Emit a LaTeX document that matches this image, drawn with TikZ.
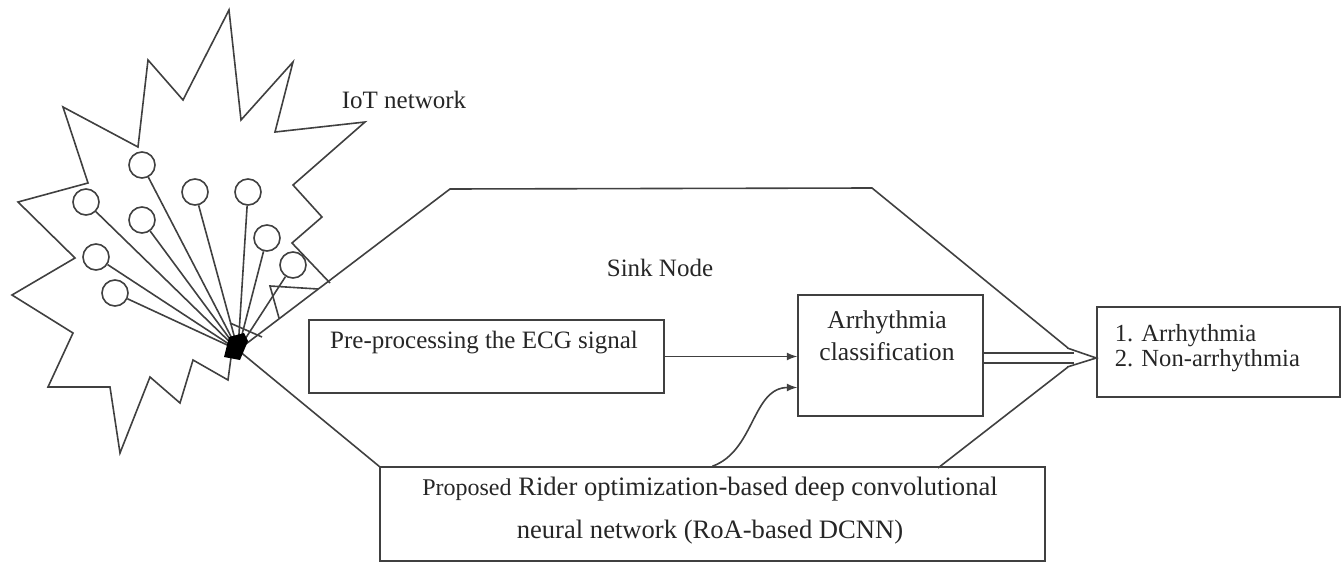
\documentclass[tikz,border=0pt]{standalone}
\usepackage{fontspec}
\setmainfont{Liberation Serif}
\usetikzlibrary{arrows}

\begin{document}
\begin{tikzpicture}[x=0.5pt,y=-0.5pt,>=latex,color=black!75,line width=0.8pt,
    font=\fontsize{12.5}{15}\selectfont]
    \tikzstyle{sensor}=[circle,draw,minimum size=13pt,inner sep=0pt]
    \tikzstyle{block}=[rectangle,draw,inner sep=0pt]
    \tikzstyle{annot}=[align=center,text=black!85,inner sep=0pt]

    \useasboundingbox (0,0) rectangle (1341,562);

    % Draw the IoT network outline
    \draw (330,283) -- (292,243) -- (322,217) -- (293,185) -- (365,122) -- (275,132)
        -- (293,62) -- (241,120) -- (229,10) -- (183,100) -- (148,60) -- (138,147)
        -- (63,107) -- (88,183) -- (18,202) -- (75,258) -- (12,295) -- (73,333)
        -- (48,387) -- (110,387) -- (120,453) -- (150,377) -- (180,403) -- (193,360)
        -- (228,380) -- (232,350);

    % Draw the sink node outline
    \coordinate (hub) at (238,350);
    \draw (380,467) -- (hub) -- (450,189) -- (872,188) -- (1068,348);
    \draw (1068,367) -- (938,468);

    % Draw the sensor nodes
    \foreach \name / \x / \y in {1/142/165, 2/86/202, 3/195/192, 4/248/192, 5/142/220,
                                6/267/238, 7/96/257, 8/293/265, 9/115/293}
        \node[sensor] (S-\name) at (\x,\y) {};

    % Connect every sensor with the sink
    \foreach \source in {1,...,9}
        \path (S-\source) edge (hub);

    % Base station
    \draw (279,318) -- (270,286) -- (318,289);
    \draw (230,323) -- (262,337);
    \fill[black] (224,357) -- (229,337) -- (244,333) -- (248,341) -- (240,360) -- cycle;

    % Draw the processing blocks
    \node[block, minimum width=177.5pt, minimum height=36.5pt] (pre) at (486.5,356.5) {};
    \node[block, minimum width=92.5pt, minimum height=60.5pt] (cls) at (890.5,355.5) {};
    \node[block, minimum width=332.5pt, minimum height=47pt] (model) at (712.5,514) {};
    \node[block, minimum width=121.5pt, minimum height=45pt] (res) at (1218.5,352) {};

    % Annotate the blocks
    \node[annot] (iot) at (404,100) {IoT network};
    \node[annot] (sink) at (660,268) {Sink Node};
    \node[annot] (pre-text) at (484,343) {Pre-processing the ECG signal};
    \node[annot, font=\fontsize{12.8}{16}\selectfont] (cls-text) at (887,336)
        {Arrhythmia\\classification};
    \node[annot, font=\fontsize{13.3}{21.5}\selectfont] (model-text) at (710,511)
        {{\fontsize{12}{21.5}\selectfont Proposed} Rider optimization-based deep convolutional\\
         neural network (RoA-based DCNN)};
    \node[annot, align=left, anchor=west, font=\fontsize{12.3}{12.5}\selectfont] (res-text)
        at (1114,348) {1. Arrhythmia\\2. Non-arrhythmia};

    % Connect the blocks
    \draw[->] (pre.east) -- (pre.east -| cls.west);
    \draw[->] (model.north) to[out=20,in=180] ([yshift=-16pt]cls.west);

    % Output arrow
    \coordinate (tip) at ([yshift=-3pt]res.west);
    \draw ([yshift=1.25pt]cls.east) -- ++(90,0);
    \draw ([yshift=-3.75pt]cls.east) -- ++(90,0);
    \draw (tip) ++(-29,-10) -- (tip) -- ++(-29,9);
\end{tikzpicture}
\end{document}
